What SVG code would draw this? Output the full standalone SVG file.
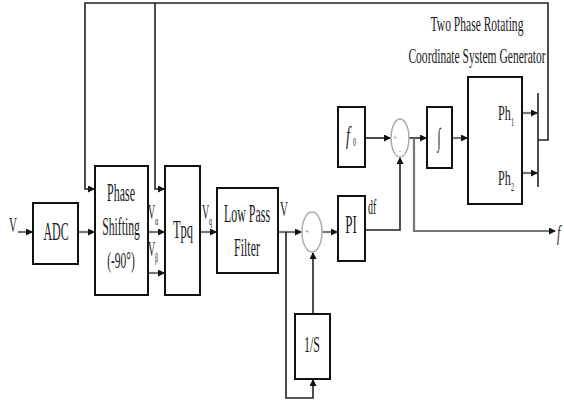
<svg xmlns="http://www.w3.org/2000/svg" width="564" height="407" viewBox="0 0 564 407">
<style>
.box{fill:#fff;stroke:#111;stroke-width:2}
.t{font-family:"Liberation Serif","Times New Roman",serif;fill:#1a1a1a;text-anchor:middle}
.lb{font-family:"Liberation Serif","Times New Roman",serif;fill:#1a1a1a}
.ln{fill:none;stroke:#222;stroke-width:1.6}
.gl{fill:none;stroke:#777;stroke-width:2.2}
.sum{fill:#fff;stroke:#aaa;stroke-width:1.4}
.sg{font-family:"Liberation Sans",sans-serif;fill:#999;text-anchor:middle;font-size:7px}
</style>
<defs>
<marker id="ah" markerWidth="7" markerHeight="7" refX="6" refY="3.5" orient="auto" markerUnits="userSpaceOnUse">
<path d="M0,0 L7,3.5 L0,7 Z" fill="#111"/>
</marker>
</defs>
<rect width="564" height="407" fill="#fff"/>

<g id="connectors">
<path class="ln" d="M538,140 H548 V3 H85 V189 H94" marker-end="url(#ah)"/>
<path class="ln" d="M155,3 V189 H164" marker-end="url(#ah)"/>
<line class="ln" x1="538" y1="93" x2="538" y2="187"/>
<path class="gl" d="M522,113 H537" marker-end="url(#ah)"/>
<path class="gl" d="M522,173 H537" marker-end="url(#ah)"/>
<path class="gl" d="M18,232 H32" marker-end="url(#ah)"/>
<path class="gl" d="M78,232 H94" marker-end="url(#ah)"/>
<path class="gl" d="M148,232 H164" marker-end="url(#ah)"/>
<path class="gl" d="M148,273 H164" marker-end="url(#ah)"/>
<path class="gl" d="M200,232 H216" marker-end="url(#ah)"/>
<path class="gl" d="M278,232 H301" marker-end="url(#ah)"/>
<path class="ln" d="M286,232 V398 H313 V380" marker-end="url(#ah)"/>
<path class="ln" d="M313,314 V253" marker-end="url(#ah)"/>
<path class="gl" d="M322,232 H337" marker-end="url(#ah)"/>
<path class="ln" d="M365,230 H400 V158" marker-end="url(#ah)"/>
<path class="ln" d="M365,138 H390" marker-end="url(#ah)"/>
<path class="ln" d="M409,138 H426" marker-end="url(#ah)"/>
<path class="gl" d="M414,138 V231 H555" marker-end="url(#ah)"/>
<path class="gl" d="M452,138 H467" marker-end="url(#ah)"/>
</g>

<text class="t" font-size="21" transform="translate(477,31) scale(0.55,1)">Two Phase Rotating</text>
<text class="t" font-size="21" transform="translate(477,63) scale(0.55,1)">Coordinate System Generator</text>

<text class="lb" font-size="20" transform="translate(9,232) scale(0.55,1)">V</text>

<g id="adc">
<rect class="box" x="33" y="203" width="45" height="61"/>
<text class="t" font-size="26" transform="translate(56,240) scale(0.46,1)">ADC</text>
</g>

<g id="phase">
<rect class="box" x="95" y="166" width="53" height="129"/>
<text class="t" font-size="26" transform="translate(121,201) scale(0.46,1)">Phase</text>
<text class="t" font-size="26" transform="translate(121,235) scale(0.45,1)">Shifting</text>
<text class="t" font-size="24" transform="translate(121,268) scale(0.48,1)">(-90°)</text>
</g>

<text class="lb" font-size="20" transform="translate(148,219) scale(0.5,1)">V</text>
<text class="lb" font-size="12" transform="translate(155,225) scale(0.5,1)">α</text>
<text class="lb" font-size="20" transform="translate(148,256) scale(0.5,1)">V</text>
<text class="lb" font-size="12" transform="translate(155,262) scale(0.5,1)">β</text>

<g id="tpq">
<rect class="box" x="165" y="166" width="35" height="129"/>
<text class="t" font-size="26" transform="translate(183,238) scale(0.48,1)">Tpq</text>
</g>

<text class="lb" font-size="20" transform="translate(202,219) scale(0.5,1)">V</text>
<text class="lb" font-size="12" transform="translate(209,225) scale(0.5,1)">q</text>

<g id="lpf">
<rect class="box" x="217" y="188" width="61" height="85"/>
<text class="t" font-size="26" transform="translate(247,222) scale(0.46,1)">Low Pass</text>
<text class="t" font-size="26" transform="translate(247,256) scale(0.46,1)">Filter</text>
</g>

<text class="lb" font-size="20" transform="translate(280,216) scale(0.55,1)">V</text>

<g id="sum1">
<ellipse class="sum" cx="312" cy="232" rx="10" ry="20"/>
<text class="sg" x="307" y="234">+</text>
</g>

<g id="integ1s">
<rect class="box" x="295" y="314" width="35" height="65"/>
<text class="t" font-size="24" transform="translate(312,352) scale(0.5,1)">1/S</text>
</g>

<g id="pi">
<rect class="box" x="338" y="196" width="27" height="65"/>
<text class="t" font-size="26" transform="translate(351,233) scale(0.5,1)">PI</text>
</g>

<text class="lb" font-size="20" transform="translate(368,214) scale(0.5,1)">df</text>

<g id="f0">
<rect class="box" x="338" y="107" width="27" height="60"/>
<text class="lb" font-size="26" font-style="italic" transform="translate(346,144) scale(0.55,1)">f</text>
<text class="lb" font-size="12" transform="translate(353,146) scale(0.5,1)">0</text>
</g>

<g id="sum2">
<ellipse class="sum" cx="400" cy="138" rx="9" ry="19"/>
<text class="sg" x="395" y="140">+</text>
<text class="sg" x="400" y="153">-</text>
</g>

<g id="integral">
<rect class="box" x="427" y="107" width="25" height="61"/>
<text class="t" font-size="26" transform="translate(439,146) scale(0.45,1)">∫</text>
</g>

<g id="phgen">
<rect class="box" x="468" y="77" width="54" height="127"/>
<text class="lb" font-size="22" transform="translate(498,120) scale(0.55,1)">Ph</text>
<text class="lb" font-size="12" transform="translate(511,126) scale(0.5,1)">1</text>
<text class="lb" font-size="22" transform="translate(498,185) scale(0.55,1)">Ph</text>
<text class="lb" font-size="12" transform="translate(511,191) scale(0.5,1)">2</text>
</g>

<text class="lb" font-size="22" font-style="italic" transform="translate(557,240) scale(0.55,1)">f</text>
</svg>
